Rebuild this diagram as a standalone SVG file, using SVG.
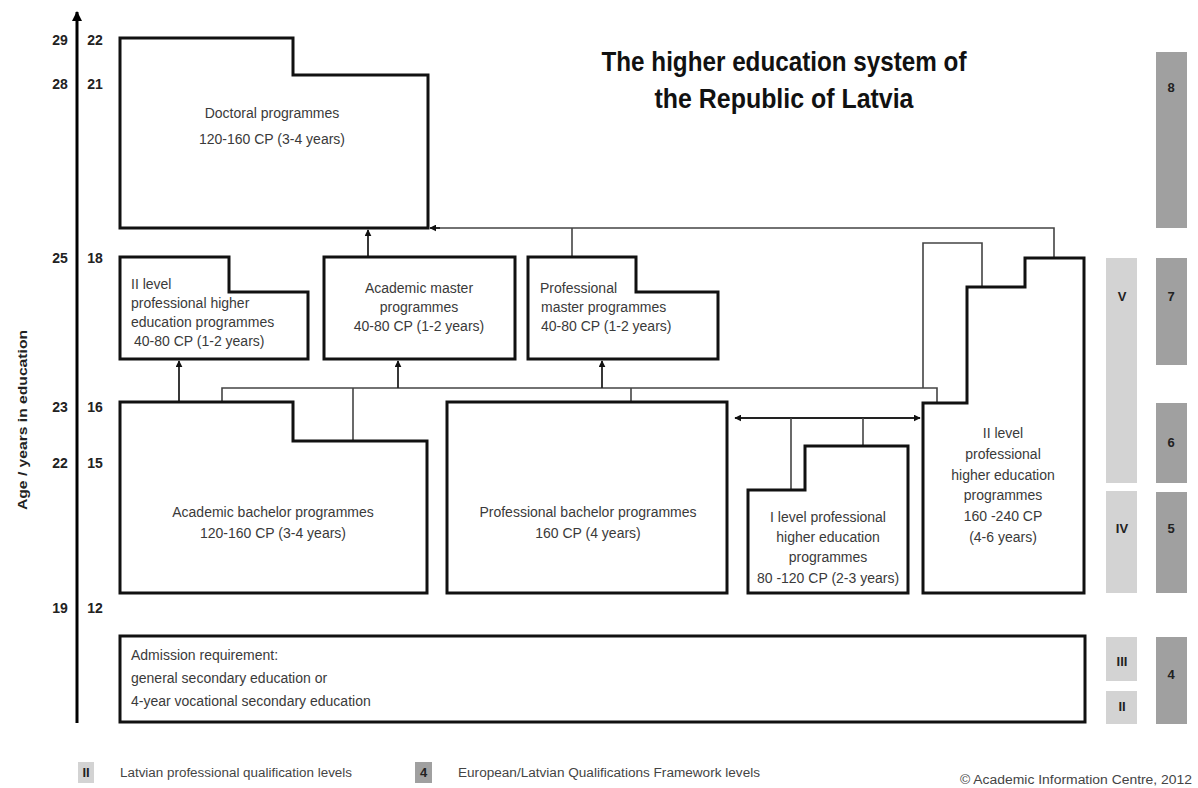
<svg xmlns="http://www.w3.org/2000/svg" width="1198" height="788" viewBox="0 0 1198 788">
<defs>
<marker id="ah" viewBox="0 0 10 10" refX="9" refY="5" markerWidth="7" markerHeight="7" markerUnits="userSpaceOnUse" orient="auto-start-reverse">
<path d="M0,0 L10,5 L0,10 Z" fill="#111"/>
</marker>
<marker id="axh" viewBox="0 0 10 10" refX="9" refY="5" markerWidth="12" markerHeight="10" markerUnits="userSpaceOnUse" orient="auto">
<path d="M0,0 L10,5 L0,10 Z" fill="#000"/>
</marker>
<style>
.box{fill:#fff;stroke:#111;stroke-width:3;stroke-linejoin:miter}
.conn{fill:none;stroke:#444;stroke-width:1.6}
.arr{fill:none;stroke:#222;stroke-width:1.8}
.t{font-family:"Liberation Sans",Arial,sans-serif;font-size:14px;fill:#3a3a3a}
.c{text-anchor:middle}
.num{font-family:"Liberation Sans",Arial,sans-serif;font-size:14px;font-weight:bold;fill:#222;text-anchor:middle}
.lvl{font-family:"Liberation Sans",Arial,sans-serif;font-size:13px;font-weight:bold;fill:#222;text-anchor:middle}
.light{fill:#d3d3d3}
.dark{fill:#a0a0a0}
.leg{font-family:"Liberation Sans",Arial,sans-serif;font-size:12.5px;fill:#444}
</style>
</defs>
<rect width="1198" height="788" fill="#fff"/>

<g id="axis">
<line x1="77" y1="723" x2="77" y2="12" stroke="#000" stroke-width="3" marker-end="url(#axh)"/>
<text class="num" x="60" y="45">29</text><text class="num" x="95" y="45">22</text>
<text class="num" x="60" y="89">28</text><text class="num" x="95" y="89">21</text>
<text class="num" x="60" y="263">25</text><text class="num" x="95" y="263">18</text>
<text class="num" x="60" y="412">23</text><text class="num" x="95" y="412">16</text>
<text class="num" x="60" y="468">22</text><text class="num" x="95" y="468">15</text>
<text class="num" x="60" y="613">19</text><text class="num" x="95" y="613">12</text>
<text x="0" y="0" transform="translate(27,420) rotate(-90)" text-anchor="middle" font-family="Liberation Sans, Arial, sans-serif" font-size="13.5" font-weight="bold" fill="#222" textLength="180" lengthAdjust="spacingAndGlyphs">Age / years in education</text>
</g>

<g id="title">
<text x="784" y="71" text-anchor="middle" font-family="Liberation Sans, Arial, sans-serif" font-size="27" font-weight="bold" fill="#111" textLength="365" lengthAdjust="spacingAndGlyphs">The higher education system of</text>
<text x="784" y="108" text-anchor="middle" font-family="Liberation Sans, Arial, sans-serif" font-size="27" font-weight="bold" fill="#111" textLength="259" lengthAdjust="spacingAndGlyphs">the Republic of Latvia</text>
</g>

<g id="connectors">
<path class="conn" d="M1054,258 V228 H436"/>
<path class="arr" d="M440,228 H430" marker-end="url(#ah)"/>
<path class="conn" d="M572,257 V228"/>
<path class="arr" d="M368,257 V230" marker-end="url(#ah)"/>
<path class="conn" d="M923,388 V243 H982 V287"/>
<path class="conn" d="M222,402 V388 H937 V402"/>
<path class="conn" d="M353,441 V388"/>
<path class="arr" d="M398,388 V361" marker-end="url(#ah)"/>
<path class="arr" d="M602,388 V361" marker-end="url(#ah)"/>
<path class="conn" d="M631,402 V388"/>
<path class="arr" d="M179,402 V361" marker-end="url(#ah)"/>
<path class="arr" d="M735,418 H920" marker-start="url(#ah)" marker-end="url(#ah)"/>
<path class="conn" d="M791,418 V490"/>
<path class="conn" d="M863,418 V446"/>
</g>

<g id="doctoral">
<path class="box" d="M120,38 H293 V75 H428 V228 H120 Z"/>
<text class="t c" x="272" y="118">Doctoral programmes</text>
<text class="t c" x="272" y="144">120-160 CP (3-4 years)</text>
</g>

<g id="prof2-short">
<path class="box" d="M120,257 H229 V292 H308 V359 H120 Z"/>
<text class="t" x="131" y="289">II level</text>
<text class="t" x="131" y="308">professional higher</text>
<text class="t" x="131" y="327">education programmes</text>
<text class="t" x="134" y="346">40-80 CP (1-2 years)</text>
</g>

<g id="academic-master">
<rect class="box" x="324" y="257" width="191" height="102"/>
<text class="t c" x="419" y="293">Academic master</text>
<text class="t c" x="419" y="312">programmes</text>
<text class="t c" x="419" y="331">40-80 CP (1-2 years)</text>
</g>

<g id="professional-master">
<path class="box" d="M528,257 H636 V292 H718 V359 H528 Z"/>
<text class="t" x="540" y="293">Professional</text>
<text class="t" x="541" y="312">master programmes</text>
<text class="t" x="541" y="331">40-80 CP (1-2 years)</text>
</g>

<g id="academic-bachelor">
<path class="box" d="M120,402 H293 V441 H427 V593 H120 Z"/>
<text class="t c" x="273" y="517">Academic bachelor programmes</text>
<text class="t c" x="273" y="538">120-160 CP (3-4 years)</text>
</g>

<g id="professional-bachelor">
<rect class="box" x="447" y="402" width="280" height="191"/>
<text class="t c" x="588" y="517">Professional bachelor programmes</text>
<text class="t c" x="588" y="538">160 CP (4 years)</text>
</g>

<g id="prof1">
<path class="box" d="M748,490 H805 V446 H908 V593 H748 Z"/>
<text class="t c" x="828" y="522">I level professional</text>
<text class="t c" x="828" y="542">higher education</text>
<text class="t c" x="828" y="562">programmes</text>
<text class="t c" x="828" y="583">80 -120 CP (2-3 years)</text>
</g>

<g id="prof2-long">
<path class="box" d="M923,403 H967 V287 H1025 V258 H1084 V593 H923 Z"/>
<text class="t c" x="1003" y="438">II level</text>
<text class="t c" x="1003" y="459">professional</text>
<text class="t c" x="1003" y="480">higher education</text>
<text class="t c" x="1003" y="500">programmes</text>
<text class="t c" x="1003" y="521">160 -240 CP</text>
<text class="t c" x="1003" y="542">(4-6 years)</text>
</g>

<g id="admission">
<rect class="box" x="120" y="636" width="965" height="86"/>
<text class="t" x="131" y="660">Admission requirement:</text>
<text class="t" x="131" y="683">general secondary education or</text>
<text class="t" x="131" y="706">4-year vocational secondary education</text>
</g>

<g id="levels">
<rect class="dark" x="1156" y="52" width="31" height="176"/>
<text class="lvl" x="1171" y="92">8</text>
<rect class="light" x="1106" y="258" width="31" height="225"/>
<text class="lvl" x="1122" y="301">V</text>
<rect class="dark" x="1156" y="258" width="31" height="107"/>
<text class="lvl" x="1171" y="301">7</text>
<rect class="dark" x="1156" y="403" width="31" height="80"/>
<text class="lvl" x="1171" y="447">6</text>
<rect class="light" x="1106" y="491" width="31" height="102"/>
<text class="lvl" x="1122" y="533">IV</text>
<rect class="dark" x="1156" y="492" width="31" height="101"/>
<text class="lvl" x="1171" y="533">5</text>
<rect class="light" x="1106" y="637" width="31" height="44"/>
<text class="lvl" x="1122" y="666">III</text>
<rect class="light" x="1106" y="691" width="31" height="33"/>
<text class="lvl" x="1122" y="711">II</text>
<rect class="dark" x="1156" y="637" width="31" height="87"/>
<text class="lvl" x="1171" y="679">4</text>
</g>

<g id="legend">
<rect class="light" x="78" y="762" width="16" height="21"/>
<text class="lvl" x="86" y="777" font-size="11">II</text>
<text class="leg" x="120" y="777" textLength="232" lengthAdjust="spacingAndGlyphs">Latvian professional qualification levels</text>
<rect class="dark" x="415" y="762" width="17" height="21"/>
<text class="lvl" x="423.5" y="777" font-size="11">4</text>
<text class="leg" x="458" y="777" textLength="302" lengthAdjust="spacingAndGlyphs">European/Latvian Qualifications Framework levels</text>
<text class="leg" x="960" y="784" textLength="232" lengthAdjust="spacingAndGlyphs">© Academic Information Centre, 2012</text>
</g>
</svg>
